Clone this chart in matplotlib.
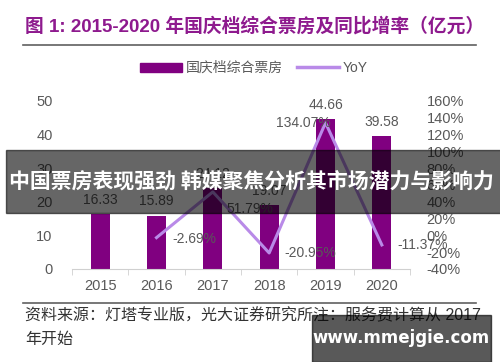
import matplotlib
matplotlib.use("Agg")
import matplotlib.pyplot as plt
from matplotlib.patches import Rectangle
from matplotlib.lines import Line2D
import numpy as np

plt.rcParams['font.family'] = ['Liberation Sans', 'Noto Sans CJK SC', 'DejaVu Sans']

years = ["2015", "2016", "2017", "2018", "2019", "2020"]
box_office = [16.33, 15.89, 24.12, 19.07, 44.66, 39.58]
yoy_years = ["2016", "2017", "2018", "2019", "2020"]
yoy = [-2.69, 51.79, -20.95, 134.07, -11.37]
left_ticks = [0, 10, 20, 30, 40, 50]
right_ticks = [-40, -20, 0, 20, 40, 60, 80, 100, 120, 140, 160]

bar_color = "#800080"
line_color = "#B98AE8"
grey = "#595959"

fig = plt.figure(figsize=(5, 3.62), dpi=100)
ax = fig.add_axes([0.144, 0.257, 0.676, 0.464])
ax2 = ax.twinx()

x = np.arange(len(years))
ax.bar(x, box_office, width=0.34, color=bar_color, zorder=2)
for xi, v in zip(x, box_office):
    ax.text(xi, v + 2.2, f"{v:.2f}", ha="center", va="bottom", fontsize=10, color=grey)

ax.set_xlim(-0.5, 5.5)
ax.set_ylim(0, 50)
ax.set_yticks(left_ticks)
ax.set_xticks(x)
ax.set_xticklabels(years)
ax.set_xticks(np.arange(-0.5, 6, 1), minor=True)
ax.tick_params(axis="x", which="major", length=0, labelsize=10.5, labelcolor=grey, pad=7)
ax.tick_params(axis="x", which="minor", length=4, color="#d0d0d0")
ax.tick_params(axis="y", length=0, labelsize=10.5, labelcolor=grey, pad=14)
for s in ["top", "right", "left"]:
    ax.spines[s].set_visible(False)
ax.spines["bottom"].set_color("#d0d0d0")

yx = [years.index(y) for y in yoy_years]
ax2.plot(yx, yoy, color=line_color, lw=2.2, zorder=3)
ax2.set_ylim(-40, 160)
ax2.set_yticks(right_ticks)
ax2.set_yticklabels([f"{t}%" for t in right_ticks])
ax2.tick_params(axis="y", length=0, labelsize=10.5, labelcolor=grey, pad=12)
for s in ["top", "right", "left", "bottom"]:
    ax2.spines[s].set_visible(False)

yoy_offsets = [(0.28, -2, "left"), (0.25, -20, "left"), (0.27, 0, "left"), (0.09, 0, "right"), (0.27, 0, "left")]
for xi, v, (dx, dy, ha) in zip(yx, yoy, yoy_offsets):
    ax2.text(xi + dx, v + dy, f"{v:.2f}%", ha=ha, va="center", fontsize=10, color=grey)

handles = [Rectangle((0, 0), 1, 1, color=bar_color), Line2D([], [], color=line_color, lw=2.5)]
fig.legend(handles, ["国庆档综合票房", "YoY"], loc="center", bbox_to_anchor=(0.508, 1 - 68 / 362),
           ncol=2, frameon=False, fontsize=10, labelcolor=grey, handlelength=3.0, handleheight=0.6,
           columnspacing=1.0, handletextpad=0.3)

# title and rules
fig.text(0.05, 1 - 26 / 362, "图 1: 2015-2020 年国庆档综合票房及同比增率（亿元）", fontsize=13.5,
         fontweight="bold", color="#8E1A8E", va="center", ha="left",
         family=['Liberation Sans', 'Noto Sans CJK SC'])
fig.add_artist(Line2D([0.046, 0.952], [1 - 45 / 362] * 2, color="#606060", lw=1.2))
fig.add_artist(Line2D([0.046, 0.952], [1 - 303 / 362] * 2, color="#606060", lw=1.2))

fig.text(0.05, 1 - 316 / 362, "资料来源：灯塔专业版，光大证券研究所注：服务费计算从 2017", fontsize=11.5,
         color="#333333", va="center", ha="left")
fig.text(0.05, 1 - 339 / 362, "年开始", fontsize=11.5, color="#333333", va="center", ha="left")

# overlay banner
fig.add_artist(Rectangle((6 / 500, 1 - 213 / 362), 1, 63 / 362, transform=fig.transFigure,
                         color="black", alpha=0.6, zorder=10))
fig.text(0.503, 1 - 181 / 362, "中国票房表现强劲 韩媒聚焦分析其市场潜力与影响力", fontsize=15,
         fontweight="bold", color="white", ha="center", va="center", zorder=11,
         family=['Noto Sans CJK SC', 'DejaVu Sans'])

# watermark box
fig.add_artist(Rectangle((312 / 500, 0), 179 / 500, 47 / 362, transform=fig.transFigure,
                         color="black", alpha=0.65, zorder=10))
fig.text(401 / 500, 1 - 338 / 362, "www.mmejgie.com", fontsize=12, fontweight="bold", color="white",
         ha="center", va="center", zorder=11, family=['DejaVu Sans'])

fig.savefig("out.png", dpi=100)
